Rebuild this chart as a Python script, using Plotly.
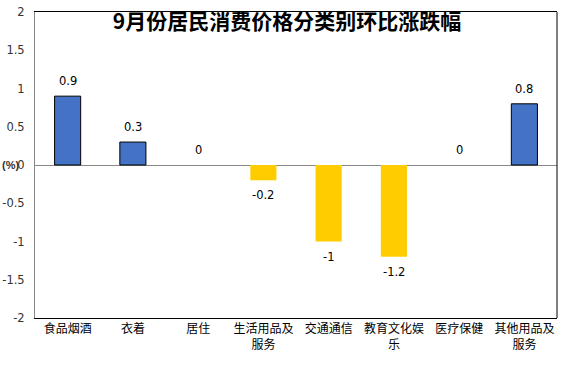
import plotly.graph_objects as go

categories = ["食品烟酒", "衣着", "居住", "生活用品及<br>服务", "交通通信", "教育文化娱<br>乐", "医疗保健", "其他用品及<br>服务"]
values = [0.9, 0.3, 0, -0.2, -1, -1.2, 0, 0.8]
labels = ["0.9", "0.3", "0", "-0.2", "-1", "-1.2", "0", "0.8"]
tick_vals = [-2, -1.5, -1, -0.5, 0, 0.5, 1, 1.5, 2]
tick_text = ["-2", "-1.5", "-1", "-0.5", "0", "0.5", "1", "1.5", "2"]
title_text = "9月份居民消费价格分类别环比涨跌幅"
unit_text = "(%)"

BLUE = "#4472C4"
YELLOW = "#FFCC00"
colors = [BLUE if v > 0 else YELLOW for v in values]
line_w = [1 if v > 0 else 0 for v in values]
NUMFONT = "DejaVu Sans, Verdana"

fig = go.Figure()
fig.add_trace(go.Bar(
    x=categories, y=values,
    marker=dict(color=colors, line=dict(color="black", width=line_w)),
    width=0.4,
))

for c, v, t in zip(categories, values, labels):
    fig.add_annotation(x=c, y=v, text=t, showarrow=False,
                       yshift=(-15 if v < 0 else 15),
                       font=dict(family=NUMFONT, size=11.5, color="black"))

fig.add_annotation(xref="paper", yref="y", x=0, y=0, xanchor="right", xshift=-15,
                   text="<b>" + unit_text + "</b>", showarrow=False, borderpad=0,
                   font=dict(family="Liberation Sans, Arial", size=11, color="#333333"))

# right border of the plot frame
fig.add_shape(type="line", xref="paper", yref="paper", x0=1, x1=1, y0=0, y1=1,
              line=dict(color="black", width=1))

W, H = 574, 374
fig.update_layout(
    width=W, height=H,
    margin=dict(l=35, r=17, t=12, b=56),
    paper_bgcolor="white", plot_bgcolor="white",
    showlegend=False,
    title=dict(text="<b>" + title_text + "</b>", x=0.5, xanchor="center", y=1 - 22 / H, yanchor="middle",
               font=dict(family="Noto Sans CJK SC", size=21, color="black")),
    font=dict(family="Noto Sans CJK SC", size=12, color="black"),
)
fig.update_xaxes(showline=True, linecolor="black", mirror=True, ticks="", showgrid=False,
                 automargin=False,
                 tickfont=dict(family="Noto Sans CJK SC", size=12, color="black"))
fig.update_yaxes(range=[-2, 2], tickvals=tick_vals, ticktext=tick_text, showgrid=False,
                 showline=True, linecolor="#888888", mirror=False, automargin=False,
                 zeroline=True, zerolinecolor="#888888", zerolinewidth=1,
                 tickfont=dict(family=NUMFONT, size=11.5, color="#333333"),
                 ticklabelstandoff=7)

fig.write_html("out.html", config={"displayModeBar": False},
               post_script="document.body.style.margin='0';document.body.style.overflow='hidden';")
